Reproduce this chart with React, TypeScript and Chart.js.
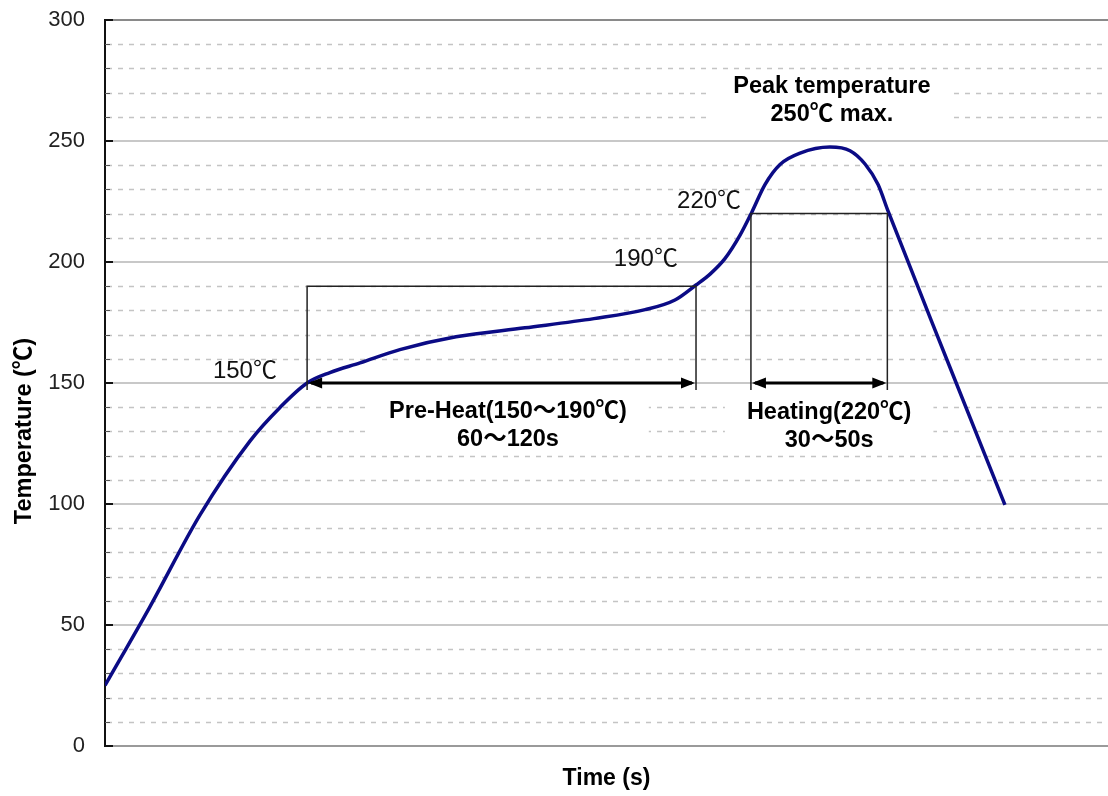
import React, { useEffect, useRef } from "react";
import { Chart, registerables } from "chart.js";

Chart.register(...registerables);

// Time axis (arbitrary seconds units) and temperature readings of the reflow curve
const timeValues = [0, 17.9, 37.9, 57.8, 69.8, 80.6, 89.7, 101.7, 117.6, 140.0, 167.5, 195.0, 215.4, 227.3, 235.7, 241.3, 247.3, 253.2, 258.0, 263.2, 269.2, 277.2, 289.1, 297.1, 303.1, 308.3, 312.3, 335.8, 358.9];
const tempValues = [25, 57.5, 95.5, 126, 139.9, 150, 154.3, 158.3, 163.8, 169.1, 172.8, 176.6, 180.3, 184.3, 190.5, 195, 201.5, 211, 220.7, 232, 240.3, 245, 247.5, 246, 240.5, 232, 221, 159.5, 99.6];

const majorTicks = [0, 50, 100, 150, 200, 250, 300];
const minorTicks = [10, 20, 30, 40, 60, 70, 80, 90, 110, 120, 130, 140, 160, 170, 180, 190, 210, 220, 230, 240, 260, 270, 280, 290];

// Annotation ranges
const preheatTime = [80.6, 235.7];
const preheatTemp = [150, 190];
const heatingTime = [257.6, 312];
const heatingTemp = [150, 220];

// Text annotations: [x, y] data anchors
const tempLabels = ["150℃", "190℃", "220℃"];
const tempLabelX = [55.8, 215.7, 240.9];
const tempLabelY = [155, 201.2, 225.2];

const boldLabelLines = [
  ["Peak temperature", "250℃ max."],
  ["Pre-Heat(150～190℃)", "60～120s"],
  ["Heating(220℃)", "30～50s"],
];
const boldLabelX = [289.9, 160.7, 288.8];
const boldLabelY = [272.7, 138.4, 138];

const xTitle = "Time (s)";
const yTitle = "Temperature (℃)";

const FONT = "'Liberation Sans', Arial, Helvetica, 'Noto Sans CJK KR', sans-serif";
const LINE_GAP = 28.5;

const refPlugin = {
  id: "refPlugin",
  beforeDatasetsDraw(chart: any) {
    const { ctx, chartArea: ca, scales } = chart;
    const y = scales.y;
    ctx.save();
    // minor dashed grid
    ctx.strokeStyle = "#c4c4c4";
    ctx.lineWidth = 1.5;
    ctx.setLineDash([5, 6]);
    for (const v of minorTicks) {
      const py = Math.round(y.getPixelForValue(v)) + 0.5;
      ctx.beginPath();
      ctx.moveTo(ca.left + 2, py);
      ctx.lineTo(ca.right, py);
      ctx.stroke();
    }
    ctx.setLineDash([]);
    // major solid grid
    ctx.strokeStyle = "#c8c8c8";
    ctx.lineWidth = 2;
    for (const v of majorTicks) {
      const py = Math.round(y.getPixelForValue(v));
      ctx.beginPath();
      ctx.moveTo(ca.left, py);
      ctx.lineTo(ca.right, py);
      ctx.stroke();
    }
    // top border
    ctx.strokeStyle = "#8a8a8a";
    ctx.lineWidth = 2;
    ctx.beginPath();
    ctx.moveTo(ca.left, Math.round(y.getPixelForValue(300)));
    ctx.lineTo(ca.right, Math.round(y.getPixelForValue(300)));
    ctx.stroke();
    // bottom border
    ctx.strokeStyle = "#9a9a9a";
    ctx.beginPath();
    ctx.moveTo(ca.left, Math.round(y.getPixelForValue(0)));
    ctx.lineTo(ca.right, Math.round(y.getPixelForValue(0)));
    ctx.stroke();
    // left axis
    ctx.strokeStyle = "#111";
    ctx.lineWidth = 2;
    ctx.beginPath();
    ctx.moveTo(ca.left, ca.top - 1);
    ctx.lineTo(ca.left, ca.bottom + 1);
    ctx.stroke();
    // tick marks (inward)
    ctx.lineWidth = 2;
    for (const v of majorTicks) {
      const py = Math.round(y.getPixelForValue(v));
      ctx.beginPath();
      ctx.moveTo(ca.left, py);
      ctx.lineTo(ca.left + 8, py);
      ctx.stroke();
    }
    ctx.strokeStyle = "#555";
    ctx.lineWidth = 1;
    for (const v of minorTicks) {
      const py = Math.round(y.getPixelForValue(v)) + 0.5;
      ctx.beginPath();
      ctx.moveTo(ca.left, py);
      ctx.lineTo(ca.left + 5, py);
      ctx.stroke();
    }
    // white backgrounds for bold labels
    ctx.font = `bold 23.5px ${FONT}`;
    const x = scales.x;
    boldLabelLines.forEach((lines, i) => {
      const cx = x.getPixelForValue(boldLabelX[i]);
      const cy = y.getPixelForValue(boldLabelY[i]);
      const w = Math.max(...lines.map((l) => ctx.measureText(l).width));
      ctx.fillStyle = "#ffffff";
      ctx.fillRect(cx - w / 2 - 22, cy - 14, w + 44, LINE_GAP * (lines.length - 1) + 28);
    });
    ctx.restore();
  },
  afterDatasetsDraw(chart: any) {
    const { ctx, chartArea: ca, scales } = chart;
    const x = scales.x;
    const y = scales.y;
    ctx.save();
    const drawBox = (tr: number[], yr: number[]) => {
      const x1 = x.getPixelForValue(tr[0]);
      const x2 = x.getPixelForValue(tr[1]);
      const yb = y.getPixelForValue(yr[0]);
      const yt = y.getPixelForValue(yr[1]);
      ctx.strokeStyle = "#222";
      ctx.lineWidth = 1.5;
      ctx.beginPath();
      ctx.moveTo(x1, yb + 7);
      ctx.lineTo(x1, yt);
      ctx.lineTo(x2, yt);
      ctx.lineTo(x2, yb + 7);
      ctx.stroke();
      // arrow
      ctx.strokeStyle = "#000";
      ctx.fillStyle = "#000";
      ctx.lineWidth = 3;
      ctx.beginPath();
      ctx.moveTo(x1 + 4, yb);
      ctx.lineTo(x2 - 4, yb);
      ctx.stroke();
      ctx.beginPath();
      ctx.moveTo(x1 + 1, yb);
      ctx.lineTo(x1 + 15, yb - 5.5);
      ctx.lineTo(x1 + 15, yb + 5.5);
      ctx.closePath();
      ctx.fill();
      ctx.beginPath();
      ctx.moveTo(x2 - 1, yb);
      ctx.lineTo(x2 - 15, yb - 5.5);
      ctx.lineTo(x2 - 15, yb + 5.5);
      ctx.closePath();
      ctx.fill();
    };
    drawBox(preheatTime, preheatTemp);
    drawBox(heatingTime, heatingTemp);

    // temperature labels
    ctx.fillStyle = "#111";
    ctx.textAlign = "center";
    ctx.textBaseline = "middle";
    ctx.font = `24px ${FONT}`;
    tempLabels.forEach((t, i) => {
      ctx.fillText(t, x.getPixelForValue(tempLabelX[i]), y.getPixelForValue(tempLabelY[i]));
    });
    // bold labels
    ctx.font = `bold 23.5px ${FONT}`;
    ctx.fillStyle = "#000";
    boldLabelLines.forEach((lines, i) => {
      const cx = x.getPixelForValue(boldLabelX[i]);
      const cy = y.getPixelForValue(boldLabelY[i]);
      lines.forEach((l, j) => ctx.fillText(l, cx, cy + j * LINE_GAP));
    });
    // axis titles
    ctx.font = `bold 23px ${FONT}`;
    ctx.fillText(xTitle, (ca.left + ca.right) / 2, 779);
    ctx.save();
    ctx.font = `bold 23.5px ${FONT}`;
    ctx.translate(25, 431);
    ctx.rotate(-Math.PI / 2);
    ctx.fillText(yTitle, 0, 0);
    ctx.restore();
    ctx.restore();
  },
};

export default function App() {
  const canvasRef = useRef<HTMLCanvasElement | null>(null);

  useEffect(() => {
    if (!canvasRef.current) return;
    const points = timeValues.map((t, i) => ({ x: t, y: tempValues[i] }));
    const chart = new Chart(canvasRef.current, {
      type: "line",
      data: {
        datasets: [
          {
            data: points,
            borderColor: "#0b0b85",
            borderWidth: 3.5,
            pointRadius: 0,
            cubicInterpolationMode: "monotone",
            fill: false,
          },
        ],
      },
      options: {
        animation: false,
        responsive: false,
        layout: { padding: { top: 20, right: 0, bottom: 50, left: 0 } },
        plugins: { legend: { display: false }, tooltip: { enabled: false } },
        scales: {
          x: {
            type: "linear",
            min: 0,
            max: 400,
            display: false,
          },
          y: {
            min: 0,
            max: 300,
            afterFit: (scale: any) => {
              scale.width = 105;
              scale.paddingTop = 0;
              scale.paddingBottom = 0;
            },
            grid: { display: false, drawTicks: false },
            border: { display: false },
            ticks: {
              stepSize: 10,
              autoSkip: false,
              padding: 20,
              color: "#222",
              font: { family: FONT, size: 22 },
              callback: (v: any) => (Number(v) % 50 === 0 ? String(v) : ""),
            },
          },
        },
      },
      plugins: [refPlugin],
    });
    return () => chart.destroy();
  }, []);

  return (
    <div style={{ position: "absolute", left: 0, top: 0, width: 1108, height: 796, background: "#fff" }}>
      <canvas ref={canvasRef} width={1108} height={796} style={{ display: "block" }} />
    </div>
  );
}
